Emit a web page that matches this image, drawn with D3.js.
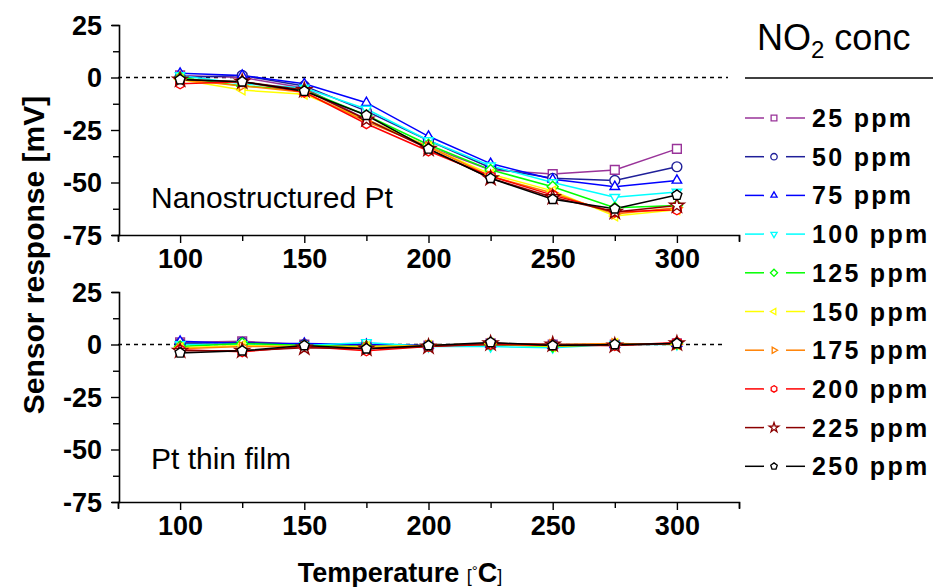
<!DOCTYPE html>
<html><head><meta charset="utf-8">
<script src="https://cdn.jsdelivr.net/npm/d3@7"></script>
<style>body{margin:0;background:#fff}svg{display:block}text{font-family:Arial,"Liberation Sans",sans-serif}</style>
</head><body><svg id="c" width="933" height="587"></svg>
<script>
const temperatures = [100,125,150,175,200,225,250,275,300];
const concLabels = ["25 ppm","50 ppm","75 ppm","100 ppm","125 ppm","150 ppm","175 ppm","200 ppm","225 ppm","250 ppm"];
const colors = ["#993399","#1f1f99","#0000ff","#00ffff","#00ff00","#ffff00","#ff8000","#ff0000","#8b0000","#000000"];
const markers = ["square","circle","triUp","triDown","diamond","triLeft","triRight","hexagon","star","pentagon"];
const nanoValues = [
  [1, 0, -5, -20, -33, -44, -46, -44, -34],
  [0, 1, -4, -16, -30, -43, -48, -49, -42.5],
  [2, 1, -3, -12, -28, -41, -48.5, -52, -49],
  [1, -3, -5, -15, -30, -42, -50, -57, -54.5],
  [0, -4, -6, -18, -32, -44, -52, -62, -61],
  [-1, -6, -8, -20, -33, -46, -54, -66, -63],
  [-1, -4, -7, -21, -33, -47, -55, -65, -62],
  [-3, -2, -7, -22, -35, -47, -56, -64, -63],
  [-1, -2, -6, -20, -34, -48, -57, -64, -61],
  [-1, -2, -6.5, -18, -34, -48, -58, -62.5, -56]
];
const filmValues = [
  [1, 1.5, 0, 0, -0.5, 0.5, 0, 0, 0.5],
  [0.5, 1, 0, -0.5, -0.5, 0, 0, 0, 0.5],
  [1.5, 0.5, 0.5, 0, -0.5, 0, -0.5, 0, 0.5],
  [0, 0, -0.5, 1, -1, -1, -1.5, 0, 0],
  [-1, 0.5, -0.5, -1, -0.5, 0, -1, 0, 0.5],
  [-1.5, -0.5, -1, -1, -0.5, 0.5, -1, 0.5, 0],
  [-2, -1, -1, -1.5, -0.5, 0.5, 0, 0.5, 0],
  [-2.5, -3.5, -1, -3, -1, 0, -0.5, -0.5, 1],
  [-3, -3, -1.5, -2, -1, 0.5, 0, -0.5, 0.5],
  [-4, -3, -0.5, -2, -0.5, 1, -0.5, 0, 0.5]
];
const xTicks = [75,100,125,150,175,200,225,250,275,300,325];
const xLabels = [100,150,200,250,300];
const yTicks = [25,12.5,0,-12.5,-25,-37.5,-50,-62.5,-75];
const yLabels = [25,0,-25,-50,-75];
const panelNames = ["Nanostructured Pt","Pt thin film"];

const svg = d3.select("#c");
const x = d3.scaleLinear().domain([75,325]).range([118,739]);
const panels = [
  {vals: nanoValues, y: d3.scaleLinear().domain([-75,25]).range([235,25]), name: panelNames[0]},
  {vals: filmValues, y: d3.scaleLinear().domain([-75,25]).range([502,292]), name: panelNames[1]}
];

function poly(n, r, rot){
  const pts=[];
  for(let i=0;i<n;i++){const a=rot+i*2*Math.PI/n;pts.push([r*Math.cos(a),r*Math.sin(a)]);}
  return "M"+pts.map(p=>p[0].toFixed(2)+","+p[1].toFixed(2)).join("L")+"Z";
}
function markerPath(type, r){
  switch(type){
    case "square": return `M${-r*0.8},${-r*0.8}H${r*0.8}V${r*0.8}H${-r*0.8}Z`;
    case "circle": return d3.symbol(d3.symbolCircle, Math.PI*r*r*0.8)();
    case "triUp": return poly(3, r, -Math.PI/2);
    case "triDown": return poly(3, r, Math.PI/2);
    case "triLeft": return poly(3, r, Math.PI);
    case "triRight": return poly(3, r, 0);
    case "diamond": return poly(4, r, -Math.PI/2);
    case "hexagon": return poly(6, r*0.9, -Math.PI/2);
    case "star": return d3.symbol(d3.symbolStar, r*r*2.2)();
    case "pentagon": return poly(5, r*0.95, -Math.PI/2);
  }
}

const font = 'Arial,"Liberation Sans",sans-serif';

panels.forEach((p, pi)=>{
  const g = svg.append("g");
  g.append("line").attr("x1",x(75)).attr("x2",pi===0?728:722).attr("y1",p.y(0)).attr("y2",p.y(0))
    .attr("stroke","#000").attr("stroke-width",1.3).attr("stroke-dasharray","4,4");
  const ya = g.append("g").attr("transform",`translate(${x(75)+1},0)`)
    .call(d3.axisLeft(p.y).tickValues(yTicks).tickFormat(d=>yLabels.includes(d)?d:"").tickSizeOuter(0).tickSize(7));
  ya.selectAll("path.domain").attr("stroke","#000").attr("stroke-width",1.6);
  ya.selectAll(".tick line").attr("stroke","#000").attr("stroke-width",1.4)
    .attr("x2",d=>yLabels.includes(d)?-8:-6);
  ya.selectAll(".tick text").attr("font-size",27).attr("font-weight","bold").attr("font-family",font).attr("fill","#000").attr("x",-17).attr("dy","0.34em");
  const xa = g.append("g").attr("transform",`translate(0,${p.y(-75)})`)
    .call(d3.axisBottom(x).tickValues(xTicks).tickFormat(d=>xLabels.includes(d)?d:"").tickSizeOuter(0).tickSize(7));
  xa.selectAll("path.domain").attr("stroke","#000").attr("stroke-width",1.6);
  xa.selectAll(".tick line").attr("stroke","#000").attr("stroke-width",1.4)
    .attr("y2",d=>xLabels.includes(d)?8:6);
  xa.selectAll(".tick text").attr("font-size",27).attr("font-weight","bold").attr("font-family",font).attr("fill","#000").attr("y",14);
  const line = d3.line().x((d,i)=>x(temperatures[i])).y(d=>p.y(d));
  p.vals.forEach((vals, si)=>{
    g.append("path").attr("d",line(vals)).attr("fill","none").attr("stroke",colors[si]).attr("stroke-width",1.5);
  });
  p.vals.forEach((vals, si)=>{
    g.selectAll(null).data(vals).enter().append("path")
      .attr("d",markerPath(markers[si],5.5))
      .attr("transform",(d,i)=>`translate(${x(temperatures[i])},${p.y(d)})`)
      .attr("fill","#fff").attr("stroke",colors[si]).attr("stroke-width",1.4);
  });
  g.append("text").attr("x",151).attr("y",pi===0?208:469).attr("font-size",30).text(p.name);
});

svg.append("text").attr("transform","translate(44,255) rotate(-90)").attr("text-anchor","middle")
  .attr("font-size",30).attr("font-weight","bold").text("Sensor response [mV]");
const xt = svg.append("text").attr("x",400).attr("y",582).attr("text-anchor","middle").attr("font-size",27).attr("font-weight","bold");
xt.append("tspan").text("Temperature ");
xt.append("tspan").attr("font-size",18).attr("font-weight","normal").text("[");
xt.append("tspan").attr("font-size",15).attr("font-weight","normal").attr("dy",-6).text("\u00B0");
xt.append("tspan").attr("dy",6).text("C");
xt.append("tspan").attr("font-size",18).attr("font-weight","normal").text("]");

const lt = svg.append("text").attr("x",757).attr("y",50).attr("font-size",36);
lt.append("tspan").text("NO");
lt.append("tspan").attr("font-size",24).attr("dy",8).text("2");
lt.append("tspan").attr("dy",-8).text(" conc");
svg.append("line").attr("x1",745).attr("x2",933).attr("y1",78).attr("y2",78).attr("stroke","#000").attr("stroke-width",1.5);
const leg = svg.append("g");
concLabels.forEach((lab, i)=>{
  const yy = 118 + i*38.7;
  leg.append("line").attr("x1",745).attr("x2",764).attr("y1",yy).attr("y2",yy).attr("stroke",colors[i]).attr("stroke-width",1.5);
  leg.append("line").attr("x1",786).attr("x2",805).attr("y1",yy).attr("y2",yy).attr("stroke",colors[i]).attr("stroke-width",1.5);
  leg.append("path").attr("d",markerPath(markers[i],3.6)).attr("transform",`translate(774,${yy})`)
    .attr("fill","#fff").attr("stroke",colors[i]).attr("stroke-width",1.3);
  leg.append("text").attr("x",812).attr("y",yy+9).attr("font-size",25).attr("font-weight","bold").attr("letter-spacing",2.3).text(lab);
});
</script></body></html>
